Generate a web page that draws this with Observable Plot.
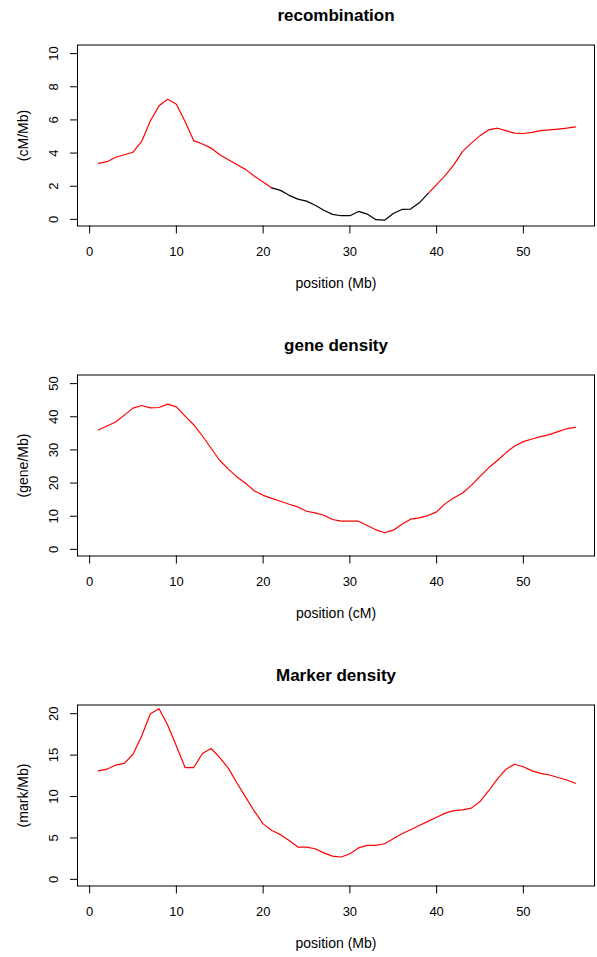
<!DOCTYPE html>
<html>
<head>
<meta charset="utf-8">
<script src="https://cdn.jsdelivr.net/npm/d3@7"></script>
<script src="https://cdn.jsdelivr.net/npm/@observablehq/plot@0.6"></script>
<style>
  html, body { margin: 0; padding: 0; background: #fff; }
  #wrap { position: relative; width: 597px; height: 957px; }
  .panel { position: absolute; left: 0; }
</style>
</head>
<body>
<div id="wrap">
  <div class="panel" id="p1" style="top:0px"></div>
  <div class="panel" id="p2" style="top:330px"></div>
  <div class="panel" id="p3" style="top:660px"></div>
</div>
<script>
// Positions along the chromosome (Mb)
const positions = [1,2,3,4,5,6,7,8,9,10,11,12,13,14,15,16,17,18,19,20,21,22,23,24,25,26,27,28,
  29,30,31,32,33,34,35,36,37,38,39,40,41,42,43,44,45,46,47,48,49,50,51,52,53,54,55,56];

// Recombination rate (cM/Mb)
const recombination = [3.38,3.48,3.75,3.9,4.05,4.7,5.95,6.85,7.25,6.95,5.9,4.75,4.55,4.3,3.9,3.6,
  3.3,3.0,2.6,2.25,1.9,1.75,1.45,1.22,1.1,0.85,0.55,0.3,0.22,0.22,0.48,0.32,-0.02,-0.05,0.35,
  0.6,0.62,1.0,1.55,2.1,2.65,3.3,4.1,4.6,5.05,5.4,5.5,5.35,5.2,5.18,5.25,5.35,5.4,5.45,5.5,5.58];

// Gene density (gene/Mb)
const geneDensity = [36.0,37.2,38.4,40.5,42.6,43.4,42.7,42.8,43.8,43.0,40.2,37.6,34.2,30.5,26.8,
  24.2,21.8,19.9,17.6,16.3,15.4,14.5,13.6,12.8,11.5,11.0,10.3,9.0,8.5,8.5,8.5,7.2,5.9,5.0,5.8,
  7.6,9.1,9.5,10.2,11.3,13.8,15.6,17.0,19.3,22.0,24.6,26.8,29.2,31.2,32.5,33.3,34.0,34.6,35.5,36.4,36.8];

// Marker density (mark/Mb)
const markerDensity = [13.1,13.3,13.8,14.0,15.1,17.3,20.0,20.6,18.6,16.1,13.5,13.5,15.2,15.8,14.7,
  13.4,11.6,9.9,8.2,6.7,5.9,5.4,4.7,3.9,3.9,3.7,3.2,2.8,2.7,3.1,3.8,4.1,4.1,4.3,4.9,5.5,6.0,6.5,
  7.0,7.5,8.0,8.3,8.4,8.6,9.4,10.7,12.1,13.3,13.9,13.6,13.1,12.8,12.6,12.3,12.0,11.6];

// Low-recombination threshold (segments below drawn in black)
const lowRecThreshold = 2;

const xTicks = [0, 10, 20, 30, 40, 50];
const recTicks = [0, 2, 4, 6, 8, 10];
const geneTicks = [0, 10, 20, 30, 40, 50];
const markTicks = [0, 5, 10, 15, 20];

const titles = ["recombination", "gene density", "Marker density"];
const xLabels = ["position (Mb)", "position (cM)", "position (Mb)"];
const yLabels = ["(cM/Mb)", "(gene/Mb)", "(mark/Mb)"];

const FONT = "'Liberation Sans', Arial, Helvetica, sans-serif";

function toRows(values) {
  return positions.map((x, i) => ({x, y: values[i]}));
}

// Split recombination curve into colored runs
function recRuns() {
  const rows = [];
  let run = 0, cur = null;
  for (let i = 0; i < positions.length - 1; i++) {
    const low = recombination[i] < lowRecThreshold && recombination[i + 1] < lowRecThreshold;
    const color = low ? "black" : "red";
    if (color !== cur) {
      run++;
      cur = color;
      rows.push({x: positions[i], y: recombination[i], run, color});
    }
    rows.push({x: positions[i + 1], y: recombination[i + 1], run, color});
  }
  return rows;
}

function panel({height, yDomain, yTicks, lineMarks, title, xLabel, yLabel}) {
  const boxBottom = 225.5;
  return Plot.plot({
    width: 597,
    height,
    marginLeft: 77,
    marginRight: 3,
    marginTop: 44.5,
    marginBottom: height - boxBottom,
    style: {fontFamily: FONT, fontSize: "13px", color: "black", background: "white"},
    x: {domain: [-1.4, 58.2]},
    y: {domain: yDomain},
    marks: [
      Plot.frame({stroke: "black", strokeWidth: 1}),
      Plot.axisX({ticks: xTicks, tickSize: 8, tickPadding: 13, label: null, fontSize: 13, stroke: "black"}),
      Plot.axisY({ticks: yTicks, tickSize: 7, tickFormat: () => "", label: null, stroke: "black"}),
      Plot.text(yTicks, {y: d => d, text: d => String(d), frameAnchor: "left", dx: -24,
        rotate: -90, textAnchor: "middle", lineAnchor: "middle", fontSize: 13, fill: "black"}),
      ...lineMarks,
      Plot.text([title], {text: d => d, frameAnchor: "top", dy: -29.5, lineAnchor: "middle",
        fontSize: 17, fontWeight: "bold", fill: "black"}),
      Plot.text([xLabel], {text: d => d, frameAnchor: "bottom", dy: 57.5, lineAnchor: "middle",
        fontSize: 14, fill: "black"}),
      Plot.text([yLabel], {text: d => d, frameAnchor: "left", dx: -54, rotate: -90,
        textAnchor: "middle", lineAnchor: "middle", fontSize: 14, fill: "black"})
    ]
  });
}

const runs = recRuns();
const p1 = panel({
  height: 330,
  yDomain: [-0.4, 10.52],
  yTicks: recTicks,
  title: titles[0], xLabel: xLabels[0], yLabel: yLabels[0],
  lineMarks: [
    Plot.line(runs.filter(d => d.color === "red"), {x: "x", y: "y", z: "run", stroke: "red", strokeWidth: 1.2}),
    Plot.line(runs.filter(d => d.color === "black"), {x: "x", y: "y", z: "run", stroke: "black", strokeWidth: 1.2})
  ]
});
const p2 = panel({
  height: 330,
  yDomain: [-2.0, 52.6],
  yTicks: geneTicks,
  title: titles[1], xLabel: xLabels[1], yLabel: yLabels[1],
  lineMarks: [Plot.line(toRows(geneDensity), {x: "x", y: "y", stroke: "red", strokeWidth: 1.2})]
});
const p3 = panel({
  height: 297,
  yDomain: [-0.8, 21.05],
  yTicks: markTicks,
  title: titles[2], xLabel: xLabels[2], yLabel: yLabels[2],
  lineMarks: [Plot.line(toRows(markerDensity), {x: "x", y: "y", stroke: "red", strokeWidth: 1.2})]
});
document.getElementById("p1").append(p1);
document.getElementById("p2").append(p2);
document.getElementById("p3").append(p3);
</script>
</body>
</html>
